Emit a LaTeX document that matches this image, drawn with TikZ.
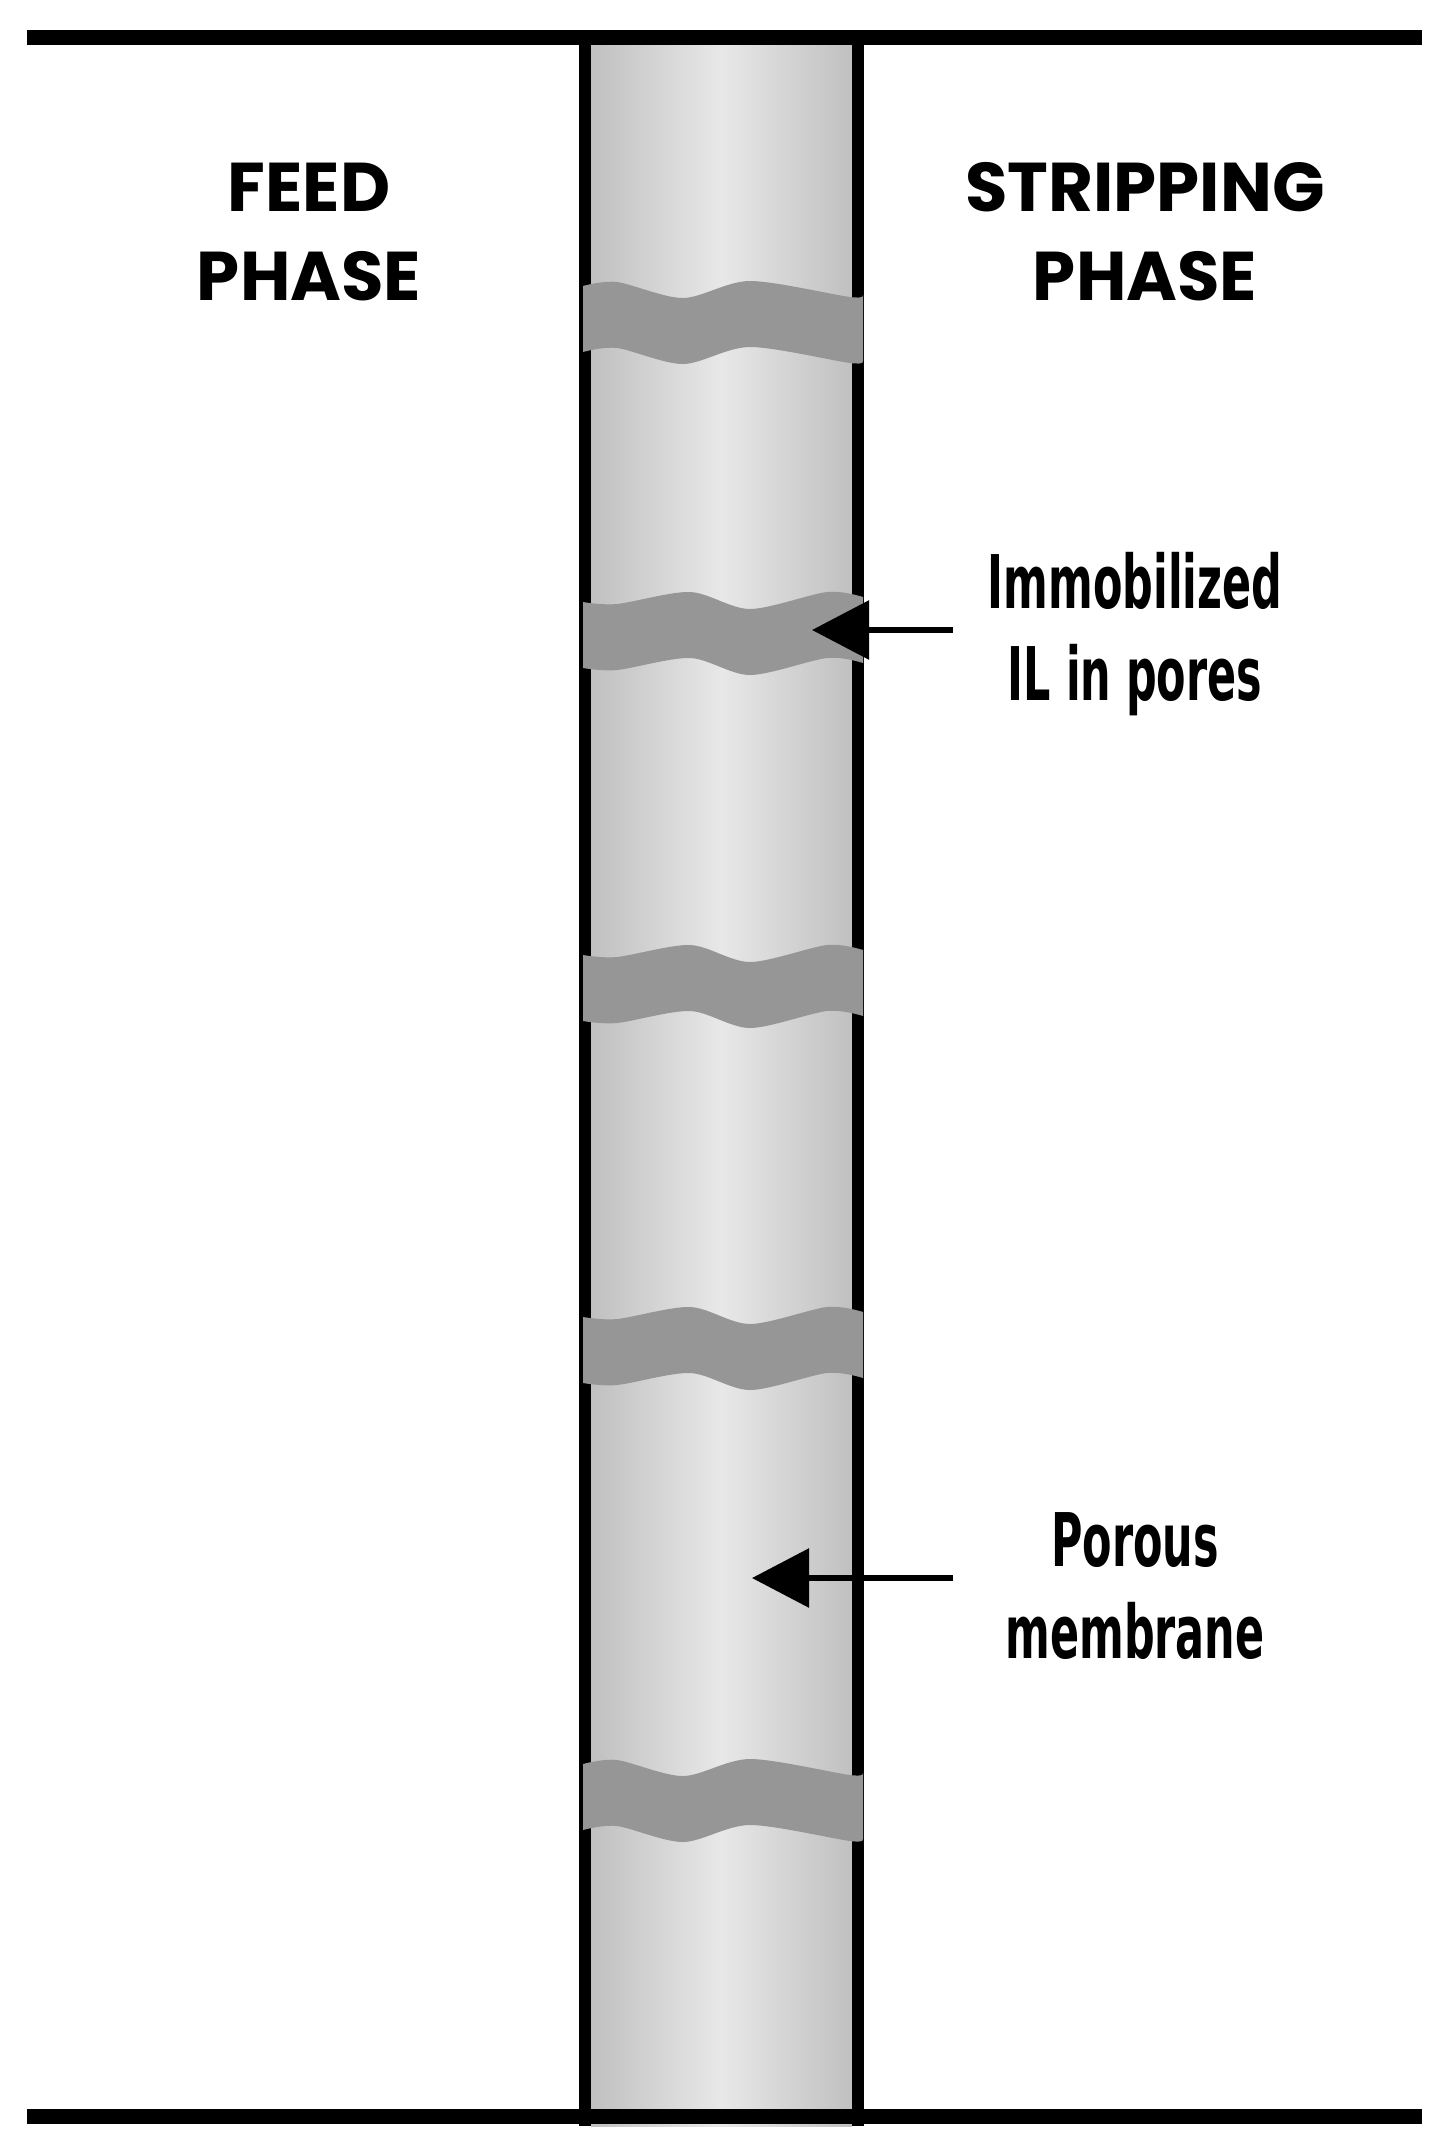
\documentclass[tikz,border=0pt]{standalone}
\usepackage{fontspec}
\usepackage{tikz}
\usetikzlibrary{calc,positioning,arrows.meta}
\newfontfamily\headfont{Poppins}
\newfontfamily\calloutfont[FakeStretch=0.58]{DejaVu Sans}
\definecolor{poregray}{RGB}{150,150,150}
\definecolor{tubeedge}{RGB}{192,192,192}
\definecolor{tubemid}{RGB}{232,232,232}
\pgfdeclarehorizontalshading{tubeshade}{100bp}{color(0bp)=(tubeedge); color(25bp)=(tubeedge); color(50bp)=(tubemid); color(75bp)=(tubeedge); color(100bp)=(tubeedge)}
\tikzset{
    bar/.style={line width=15pt},
    wall/.style={line width=12pt},
    pore/.style={fill=poregray},
    pointer/.style={line width=6pt,-{Triangle[length=57pt,width=58pt]}},
    phase/.style={align=center,inner sep=0pt,font=\headfont\bfseries\fontsize{69}{89}\selectfont},
    callout/.style={align=center,inner sep=0pt,font=\calloutfont\bfseries\fontsize{74}{92}\selectfont}
}
% wavy band of liquid held in the pores, two shapes
\newcommand{\poreA}[1]{\fill[pore,shift={(0,#1)}] plot[smooth] coordinates {(583,-37) (617,-41) (683,-25) (750,-42) (850,-26) (863,-28)} -- plot[smooth] coordinates {(863,38) (850,40) (750,24) (683,41) (617,25) (583,29)} -- cycle;}
\newcommand{\poreB}[1]{\fill[pore,shift={(0,#1)}] plot[smooth] coordinates {(583,-31) (617,-29) (690,-41) (750,-24) (827,-41) (863,-36)} -- plot[smooth] coordinates {(863,30) (827,25) (750,42) (690,25) (617,37) (583,35)} -- cycle;}

\begin{document}
\begin{tikzpicture}[x=1pt,y=-1pt]
                \useasboundingbox (0,0) rectangle (1449,2156);
                \node at (27,37) (tl) {};
                \node at (1422,37) (tr) {};
                \node at (27,2116) (bl) {};
                \node at (1422,2116) (br) {};
                \node at (585,37) (wlt) {};
                \node at (585,2126) (wlb) {};
                \node at (858,37) (wrt) {};
                \node at (858,2126) (wrb) {};

                % membrane
                \shade[shading=tubeshade] (591,37) rectangle (852,2126);
                \draw[wall] (wlt.center) -- (wlb.center);
                \draw[wall] (wrt.center) -- (wrb.center);

                \poreA{323}
                \poreB{633}
                \poreB{986}
                \poreB{1348}
                \poreA{1801}

                \draw[bar] (tl.center) -- (tr.center);
                \draw[bar] (bl.center) -- (br.center);

                % base = last line
                \node[phase,anchor=base] at (309,300) (feed) {FEED\\PHASE};
                \node[phase,anchor=base] at (1145,300) (strip) {STRIPPING\\PHASE};

                \node[callout,anchor=base] at (1135,700) (iltext) {Immobilized\\IL in pores};
                \node[callout,anchor=base] at (1135,1658) (porestext) {Porous\\membrane};

                \node at (953,630) (ilfrom) {};
                \node at (812,630) (iltip) {};
                \node at (953,1578) (memfrom) {};
                \node at (752,1578) (memtip) {};
                \draw[pointer] (ilfrom.center) -- (iltip.center);
                \draw[pointer] (memfrom.center) -- (memtip.center);
\end{tikzpicture}
\end{document}
